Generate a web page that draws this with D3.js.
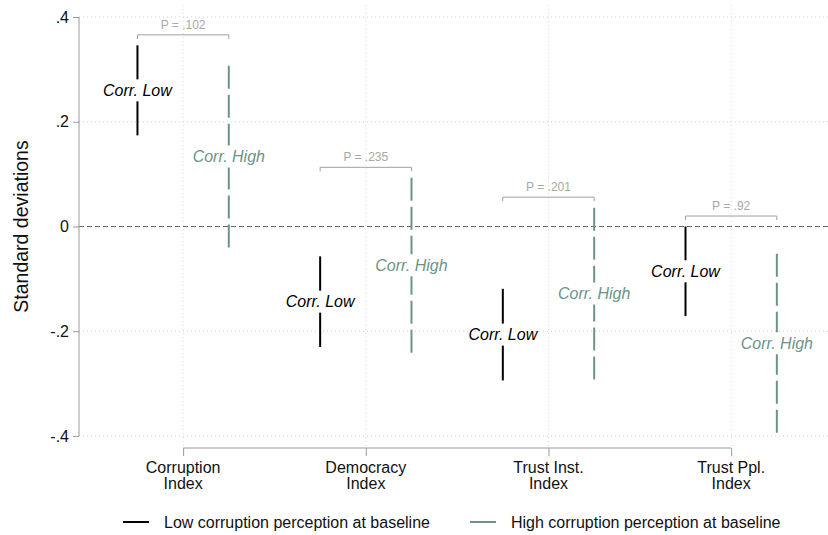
<html>
    <head>
        <meta charset="utf-8">
        <title>Corruption perception at baseline</title>
        <script src="https://cdnjs.cloudflare.com/ajax/libs/d3/7.8.5/d3.min.js"></script>
        <style>
            body { margin: 0; background: #fff; }
            text { font-family: "Liberation Sans", Arial, Helvetica, sans-serif; }
        </style>
    </head>
    <body>
        <div id="main"></div>
        <script>
            // data
            var categories = [["Corruption", "Index"], ["Democracy", "Index"], ["Trust Inst.", "Index"], ["Trust Ppl.", "Index"]];
            var lowUpper  = [0.346, -0.057, -0.119, 0.000];
            var lowLower  = [0.174, -0.230, -0.294, -0.171];
            var highUpper = [0.307, 0.093, 0.036, -0.052];
            var highLower = [-0.040, -0.241, -0.292, -0.394];
            var pLabels = ["P = .102", "P = .235", "P = .201", "P = .92"];
            var yTicks = [-0.4, -0.2, 0, 0.2, 0.4];
            var seriesNames = ["Low corruption perception at baseline", "High corruption perception at baseline"];

            var width = 828, height = 535;
            var lowColor = "#000000", highColor = "#6c9487";
            var offset = 0.25;   // half distance between the two bars of a category
            var gap = 11;        // half gap in the line where the label sits

            var svg = d3.select("#main").append("svg")
                .attr("width", width)
                .attr("height", height);

            var x = d3.scaleLinear().domain([0.43, 4.53]).range([79, 828]);
            var y = d3.scaleLinear().domain([-0.423, 0.423]).range([448, 5]);

            // grid
            svg.append("g").selectAll("line")
                .data(yTicks.filter(function(d) { return d !== 0; }))
                .enter().append("line")
                .attr("x1", x.range()[0]).attr("x2", x.range()[1])
                .attr("y1", function(d) { return y(d); }).attr("y2", function(d) { return y(d); })
                .attr("stroke", "#cfcfcf").attr("stroke-dasharray", "1,3");

            svg.append("g").selectAll("line")
                .data(categories)
                .enter().append("line")
                .attr("x1", function(d, i) { return x(i + 1); }).attr("x2", function(d, i) { return x(i + 1); })
                .attr("y1", y.range()[1]).attr("y2", y.range()[0])
                .attr("stroke", "#d6d6d6").attr("stroke-dasharray", "1,3");

            // zero line
            svg.append("line")
                .attr("x1", x.range()[0]).attr("x2", x.range()[1])
                .attr("y1", y(0)).attr("y2", y(0))
                .attr("stroke", "#666").attr("stroke-dasharray", "5,3");

            // y axis
            var fmt = function(d) {
                return d === 0 ? "0" : d3.format(".1f")(d).replace("\u2212", "-").replace("0.", ".");
            };
            var yAxis = svg.append("g")
                .attr("transform", "translate(" + x.range()[0] + ",0)")
                .call(d3.axisLeft(y).tickValues(yTicks).tickFormat(fmt).tickSize(6).tickSizeOuter(0).tickPadding(4));
            yAxis.select(".domain").attr("d", "M0," + y(0.4) + "V" + y(-0.4)).attr("stroke", "#9a9a9a");
            yAxis.selectAll(".tick line").attr("stroke", "#9a9a9a");
            yAxis.selectAll(".tick text").style("font-size", "16px").attr("fill", "#111");

            svg.append("text")
                .attr("transform", "translate(21," + y(0) + ") rotate(-90)")
                .attr("text-anchor", "middle")
                .attr("dominant-baseline", "central")
                .style("font-size", "19.5px")
                .attr("fill", "#111")
                .text("Standard deviations");

            // x axis
            var xAxis = svg.append("g")
                .attr("transform", "translate(0," + y.range()[0] + ")")
                .call(d3.axisBottom(x).tickValues([1, 2, 3, 4]).tickFormat("").tickSize(8).tickSizeOuter(0));
            xAxis.select(".domain").attr("d", "M" + x(1) + ",0H" + x(4)).attr("stroke", "#9a9a9a");
            xAxis.selectAll(".tick line").attr("stroke", "#9a9a9a");

            var catLabel = svg.append("g").selectAll("text")
                .data(categories)
                .enter().append("text")
                .attr("text-anchor", "middle")
                .style("font-size", "16px")
                .attr("fill", "#111");
            catLabel.append("tspan")
                .attr("x", function(d, i) { return x(i + 1); })
                .attr("y", 473)
                .text(function(d) { return d[0]; });
            catLabel.append("tspan")
                .attr("x", function(d, i) { return x(i + 1); })
                .attr("y", 489)
                .text(function(d) { return d[1]; });

            // bars
            var series = [
                { name: "low", upper: lowUpper, lower: lowLower, dx: -offset, color: lowColor, dash: null, label: "Corr. Low" },
                { name: "high", upper: highUpper, lower: highLower, dx: offset, color: highColor, dash: "23,6", label: "Corr. High" }
            ];

            series.forEach(function(s) {
                var rows = s.upper.map(function(u, i) {
                    var top = y(u), bottom = y(s.lower[i]);
                    return { i: i, top: top, bottom: bottom, mid: (top + bottom) / 2 };
                });
                var g = svg.append("g").attr("class", s.name);
                g.selectAll("line.upperpart")
                    .data(rows).enter().append("line")
                    .attr("x1", function(d) { return x(d.i + 1 + s.dx); })
                    .attr("x2", function(d) { return x(d.i + 1 + s.dx); })
                    .attr("y1", function(d) { return d.top; })
                    .attr("y2", function(d) { return d.mid - gap; })
                    .attr("stroke", s.color).attr("stroke-width", 2)
                    .attr("stroke-dasharray", s.dash);
                g.selectAll("line.lowerpart")
                    .data(rows).enter().append("line")
                    .attr("x1", function(d) { return x(d.i + 1 + s.dx); })
                    .attr("x2", function(d) { return x(d.i + 1 + s.dx); })
                    .attr("y1", function(d) { return d.bottom; })
                    .attr("y2", function(d) { return d.mid + gap; })
                    .attr("stroke", s.color).attr("stroke-width", 2)
                    .attr("stroke-dasharray", s.dash);
                g.selectAll("text")
                    .data(rows).enter().append("text")
                    .attr("x", function(d) { return x(d.i + 1 + s.dx); })
                    .attr("y", function(d) { return d.mid; })
                    .attr("text-anchor", "middle")
                    .attr("dominant-baseline", "central")
                    .style("font-size", "16px")
                    .style("font-style", "italic")
                    .attr("fill", s.color)
                    .text(s.label);
            });

            // p-value brackets
            var br = svg.append("g").selectAll("g")
                .data(pLabels)
                .enter().append("g");
            br.append("path")
                .attr("d", function(d, i) {
                    var by = y(Math.max(lowUpper[i], highUpper[i]) + 0.02);
                    return "M" + x(i + 1 - offset) + "," + (by + 4) + "V" + by +
                        "H" + x(i + 1 + offset) + "V" + (by + 4);
                })
                .attr("fill", "none").attr("stroke", "#a0a0a0");
            br.append("text")
                .attr("x", function(d, i) { return x(i + 1); })
                .attr("y", function(d, i) { return y(Math.max(lowUpper[i], highUpper[i]) + 0.02) - 6; })
                .attr("text-anchor", "middle")
                .style("font-size", "12px")
                .attr("fill", "#a8a8a8")
                .text(function(d) { return d; });

            // legend
            var legend = svg.append("g").attr("transform", "translate(0,522)");
            var legendX = [123, 470];
            var legendColors = [lowColor, highColor];
            seriesNames.forEach(function(name, i) {
                legend.append("line")
                    .attr("x1", legendX[i]).attr("x2", legendX[i] + 26)
                    .attr("y1", 0).attr("y2", 0)
                    .attr("stroke", legendColors[i]).attr("stroke-width", 2);
                legend.append("text")
                    .attr("x", legendX[i] + 41)
                    .attr("y", 0)
                    .attr("dominant-baseline", "central")
                    .style("font-size", "16px")
                    .attr("fill", "#111")
                    .text(name);
            });
        </script>
    </body>
</html>
